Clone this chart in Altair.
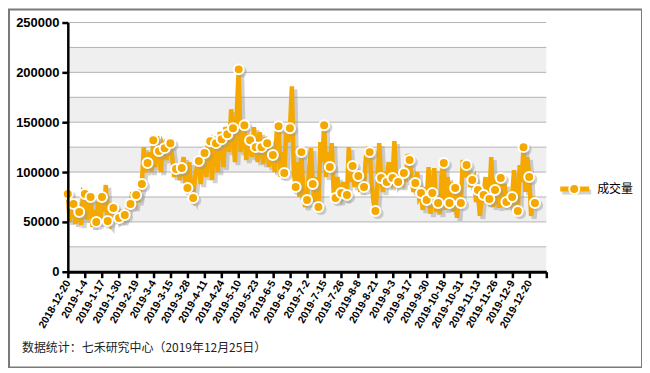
import altair as alt
import pandas as pd

# x-axis tick labels (every 9 trading days)
tick_labels = ["2018-12-20", "2019-1-4", "2019-1-17", "2019-1-30", "2019-2-19", "2019-3-4",
               "2019-3-15", "2019-3-28", "2019-4-11", "2019-4-24", "2019-5-10", "2019-5-23",
               "2019-6-5", "2019-6-19", "2019-7-2", "2019-7-15", "2019-7-26", "2019-8-8",
               "2019-8-21", "2019-9-3", "2019-9-17", "2019-9-30", "2019-10-18", "2019-10-31",
               "2019-11-13", "2019-11-26", "2019-12-9", "2019-12-20"]

# volume (thousands) on every third trading day (these carry markers)
marker_vals = [78, 68, 60, 78, 75, 50, 75, 51, 64, 54,
               57, 68, 77, 88, 109, 132, 121, 124, 129, 103,
               104, 84, 74, 111, 119, 131, 129, 133, 138, 144,
               203, 147, 132, 125, 125, 129, 117, 146, 99, 144,
               85, 120, 72, 88, 65, 147, 105, 74, 79, 77,
               106, 96, 85, 120, 61, 94, 90, 94, 90, 99,
               112, 89, 79, 72, 79, 69, 109, 69, 84, 69,
               107, 92, 82, 77, 73, 82, 94, 70, 75, 61,
               125, 95, 69]

# volume (thousands) on the two trading days between markers
mid_vals = [(50, 72), (48, 62), (47, 80), (52, 70), (45, 62), (70, 48), (60, 87), (48, 66),
            (58, 52), (62, 50), (60, 66), (80, 64), (70, 80), (125, 100), (120, 100), (105, 136),
            (100, 128), (112, 130), (115, 95), (108, 92), (115, 88), (110, 78), (95, 105), (88, 115),
            (95, 128), (92, 135), (100, 140), (105, 145), (120, 163), (110, 160), (120, 140), (112, 138),
            (115, 145), (110, 140), (108, 135), (105, 125), (100, 140), (95, 120), (140, 130), (186, 100),
            (110, 75), (80, 65), (100, 124), (70, 95), (130, 110), (95, 120), (129, 80), (95, 70),
            (90, 72), (125, 90), (85, 100), (80, 95), (115, 122), (90, 70), (85, 129), (80, 100),
            (110, 85), (131, 88), (100, 85), (90, 118), (95, 80), (100, 75), (62, 85), (105, 58),
            (104, 60), (58, 100), (62, 95), (90, 60), (54, 80), (112, 95), (100, 85), (95, 70),
            (56, 75), (95, 68), (115, 65), (95, 64), (65, 88), (80, 64), (102, 66), (107, 90),
            (80, 115), (56, 75)]

band_starts = [0, 50000, 100000, 150000, 200000]
grid_vals = [0, 25000, 50000, 75000, 100000, 125000, 150000, 175000, 200000, 225000, 250000]
y_tick_vals = [0, 50000, 100000, 150000, 200000, 250000]

series_name = "成交量"
footnote = "数据统计：七禾研究中心（2019年12月25日）"

ORANGE = "#F4A800"
N_AXIS = 9 * len(tick_labels)  # 252

vals = []
for k, (a, b) in enumerate(mid_vals):
    vals += [marker_vals[k], a, b]
vals.append(marker_vals[-1])

df = pd.DataFrame({"i": list(range(len(vals))), "v": [v * 1000 for v in vals]})
df_m = df[df["i"] % 3 == 0]

bands = pd.DataFrame({"v": band_starts, "v2": [b + 25000 for b in band_starts],
                      "i": 0, "i2": N_AXIS})
grid = pd.DataFrame({"v": grid_vals, "i": 0, "i2": N_AXIS})

arr = "[" + ",".join("'%s'" % t for t in tick_labels) + "]"
label_expr = "datum.value/9 < %d ? %s[round(datum.value/9)] : ''" % (len(tick_labels), arr)

xscale = alt.Scale(domain=[0, N_AXIS], nice=False, zero=False)
yscale = alt.Scale(domain=[0, 250000], nice=False)

x_axis = alt.Axis(values=list(range(0, N_AXIS + 1, 9)), labelExpr=label_expr, title=None,
                  labelAngle=-60, labelAlign="right", labelBaseline="middle",
                  labelFont="Liberation Sans", labelFontWeight="bold", labelFontSize=10.5,
                  labelColor="#000", labelPadding=3, labelOverlap=False, labelFlush=False,
                  domainColor="#000", domainWidth=3, tickColor="#000", tickWidth=2.5,
                  tickSize=6, grid=False, zindex=2)
y_axis = alt.Axis(values=y_tick_vals, format="d", title=None,
                  labelFont="Liberation Sans", labelFontWeight="bold", labelFontSize=13,
                  labelColor="#000", labelPadding=3,
                  domainColor="#000", domainWidth=2.5, tickColor="#000", tickWidth=2.5,
                  tickSize=6, grid=False, zindex=2)

X = alt.X("i:Q", scale=xscale, axis=x_axis)
Y = alt.Y("v:Q", scale=yscale, axis=y_axis)

band_layer = alt.Chart(bands).mark_rect(color="#efefef").encode(
    x=X, x2="i2:Q", y=Y, y2="v2:Q")

grid_layer = alt.Chart(grid).mark_rule(color="#b4b4b4", strokeWidth=1).encode(
    x=X, x2="i2:Q", y=Y)

shadow_line = alt.Chart(df).mark_line(color="#9a9a9a", strokeWidth=5, opacity=0.45,
                                      xOffset=3, yOffset=3, strokeJoin="miter").encode(x=X, y=Y)

main_line = alt.Chart(df).mark_line(color=ORANGE, strokeWidth=4.5, strokeJoin="miter").encode(
    x=X, y=Y)

shadow_pts = alt.Chart(df_m).mark_point(filled=True, shape="circle", size=130, color="#999",
                                         opacity=0.45, xOffset=2.5, yOffset=2.5).encode(x=X, y=Y)

pts = alt.Chart(df_m).mark_point(filled=True, shape="circle", size=100, fill=ORANGE,
                                  stroke="white", strokeWidth=2, opacity=1).encode(x=X, y=Y)

one = pd.DataFrame({"t": [series_name]})
leg_shadow = alt.Chart(one).mark_rule(color="#9a9a9a", strokeWidth=5, opacity=0.45).encode(
    x=alt.value(496), x2=alt.value(525), y=alt.value(170))
leg_line = alt.Chart(one).mark_rule(color=ORANGE, strokeWidth=5).encode(
    x=alt.value(494), x2=alt.value(523), y=alt.value(167))
leg_pt = alt.Chart(one).mark_point(filled=True, shape="circle", size=100, fill=ORANGE,
                                    stroke="white", strokeWidth=2, opacity=1).encode(
    x=alt.value(508), y=alt.value(167))
leg_text = alt.Chart(one).mark_text(align="left", baseline="middle", font="Noto Sans CJK SC",
                                     fontSize=12, color="#000").encode(
    x=alt.value(531), y=alt.value(167), text="t:N")

foot = alt.Chart(pd.DataFrame({"t": [footnote]})).mark_text(
    align="left", baseline="middle", font="Noto Sans CJK SC", fontSize=12, color="#222").encode(
    x=alt.value(-46), y=alt.value(327), text="t:N")

border = alt.Chart(one).mark_rect(fillOpacity=0, stroke="#7a7a7a", strokeWidth=2).encode(
    x=alt.value(-59), x2=alt.value(576), y=alt.value(-13), y2=alt.value(346))

chart = alt.layer(band_layer, grid_layer, shadow_line, main_line, shadow_pts, pts,
                  leg_shadow, leg_line, leg_pt, leg_text, foot, border).properties(
    width=480, height=250,
    autosize=alt.AutoSizeParams(type="none"),
    padding={"left": 60, "top": 14, "right": 96, "bottom": 96},
).configure_view(stroke=None)

chart.save("out.html", embed_options={"renderer": "svg", "actions": False})
